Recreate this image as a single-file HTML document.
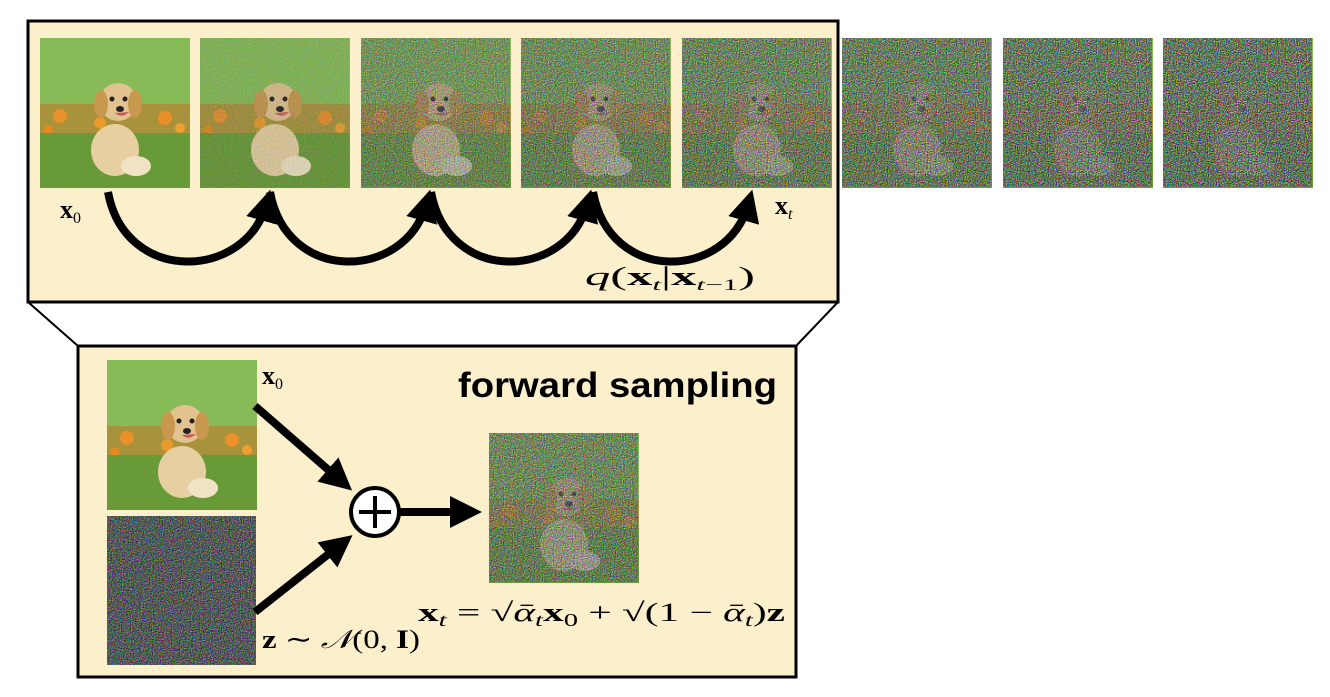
<!DOCTYPE html>
<html><head><meta charset="utf-8"><style>
html,body{margin:0;padding:0;background:#fff;width:1330px;height:697px;overflow:hidden}
svg{display:block}
.m{font-family:"Liberation Serif",serif;font-size:26px}
</style></head><body>
<svg width="1330" height="697" viewBox="0 0 1330 697">
<defs>
<filter id="nz" x="0" y="0" width="100%" height="100%" color-interpolation-filters="sRGB">
<feTurbulence type="fractalNoise" baseFrequency="0.9" numOctaves="1" seed="3"/>
<feColorMatrix values="2.2 0 0 0 -0.72 0 2.2 0 0 -0.68 0 0 2.2 0 -0.72 0 0 0 0 1"/>
</filter>
<marker id="ah" markerWidth="4" markerHeight="4" refX="2" refY="2" orient="auto" markerUnits="strokeWidth"><path d="M0,0 L4,2 L0,4 z" fill="#000"/></marker>
<g id="dog">
<rect width="150" height="150" fill="#6fa53e"/>
<rect width="150" height="70" fill="#86bb58"/>
<rect y="66" width="150" height="30" fill="#a8923c"/>
<circle cx="20" cy="78" r="7" fill="#e8902a"/><circle cx="60" cy="85" r="6" fill="#e89a2a"/><circle cx="125" cy="80" r="7" fill="#e8902a"/><circle cx="140" cy="90" r="5" fill="#f0a030"/><circle cx="8" cy="92" r="5" fill="#e08a20"/>
<rect y="95" width="150" height="55" fill="#699a38"/>
<ellipse cx="75" cy="112" rx="24" ry="26" fill="#e6cfa0"/>
<ellipse cx="96" cy="128" rx="15" ry="10" fill="#f0e2c4"/>
<ellipse cx="78" cy="64" rx="19" ry="19" fill="#e2c28e"/>
<ellipse cx="61" cy="66" rx="7" ry="14" fill="#c8984e"/>
<ellipse cx="95" cy="66" rx="7" ry="14" fill="#c8984e"/>
<circle cx="72" cy="61" r="2.5" fill="#222"/><circle cx="85" cy="61" r="2.5" fill="#222"/>
<ellipse cx="80" cy="71" rx="4" ry="3" fill="#222"/>
<path d="M75 75 Q82 81 89 74" fill="#d05a5a"/>
</g>
</defs>

<g>
<rect x="28" y="21" width="810" height="281" fill="#fcefcb" stroke="#000" stroke-width="3"/>
</g>
<g>
<line x1="28" y1="302" x2="78" y2="346" stroke="#000" stroke-width="2"/>
<line x1="838" y1="302" x2="796" y2="346" stroke="#000" stroke-width="2"/>
<rect x="78" y="346" width="718" height="331" fill="#fcefcb" stroke="#000" stroke-width="3"/>
</g>

<g>
<g transform="translate(40,38)"><use href="#dog"/></g>
<g transform="translate(200,38)"><use href="#dog"/><rect width="149" height="149" filter="url(#nz)" opacity="0.15"/></g>
<g transform="translate(361,38)"><use href="#dog"/><rect width="149" height="149" filter="url(#nz)" opacity="0.5"/></g>
<g transform="translate(521,38)"><use href="#dog"/><rect width="149" height="149" filter="url(#nz)" opacity="0.62"/></g>
<g transform="translate(682,38)"><use href="#dog"/><rect width="149" height="149" filter="url(#nz)" opacity="0.7"/></g>
<g transform="translate(842,38)"><use href="#dog"/><rect width="149" height="149" filter="url(#nz)" opacity="0.77"/></g>
<g transform="translate(1003,38)"><use href="#dog"/><rect width="149" height="149" filter="url(#nz)" opacity="0.83"/></g>
<g transform="translate(1163,38)"><use href="#dog"/><rect width="149" height="149" filter="url(#nz)" opacity="0.87"/></g>
</g>

<g fill="none" stroke="#000" stroke-width="8">
<path d="M108,192 C125,285 245,280 266,205" marker-end="url(#ah)"/>
<path d="M270,192 C287,285 405,280 426,205" marker-end="url(#ah)"/>
<path d="M431,192 C448,285 566,280 587,205" marker-end="url(#ah)"/>
<path d="M593,192 C610,285 727,280 748,205" marker-end="url(#ah)"/>
</g>
<text class="m" x="60" y="218" font-weight="bold">x<tspan font-size="16" dy="5" font-weight="normal">0</tspan></text>
<text class="m" x="775" y="214" font-weight="bold">x<tspan font-size="16" dy="5" font-weight="normal" font-style="italic">t</tspan></text>
<text class="m" x="585" y="285" textLength="170" lengthAdjust="spacingAndGlyphs"><tspan font-style="italic">q</tspan>(<tspan font-weight="bold">x</tspan><tspan font-size="16" dy="5" font-style="italic">t</tspan><tspan dy="-5">|</tspan><tspan font-weight="bold">x</tspan><tspan font-size="16" dy="5"><tspan font-style="italic">t</tspan>−1</tspan><tspan dy="-5">)</tspan></text>

<g transform="translate(107,360)"><use href="#dog"/></g>
<g transform="translate(107,516)"><rect width="149" height="149" fill="#3a3a4a"/><rect width="149" height="149" filter="url(#nz)" opacity="0.65"/></g>
<g transform="translate(489,433)"><use href="#dog"/><rect width="149" height="149" filter="url(#nz)" opacity="0.65"/></g>

<text x="458" y="397" textLength="319" lengthAdjust="spacingAndGlyphs" font-family="Liberation Sans, sans-serif" font-weight="bold" font-size="35">forward sampling</text>
<text class="m" x="262" y="384" font-weight="bold">x<tspan font-size="16" dy="5" font-weight="normal">0</tspan></text>

<g fill="none" stroke="#000" stroke-width="8">
<line x1="255" y1="406" x2="340" y2="480" marker-end="url(#ah)"/>
<line x1="255" y1="612" x2="340" y2="545" marker-end="url(#ah)"/>
<line x1="400" y1="512" x2="466" y2="512" marker-end="url(#ah)"/>
</g>
<g>
<circle cx="375" cy="512" r="24" fill="#fff" stroke="#000" stroke-width="4"/>
<line x1="375" y1="496" x2="375" y2="528" stroke="#000" stroke-width="4"/>
<line x1="359" y1="512" x2="391" y2="512" stroke="#000" stroke-width="4"/>
</g>

<text class="m" x="418" y="621" font-size="30" textLength="367" lengthAdjust="spacingAndGlyphs"><tspan font-weight="bold">x</tspan><tspan font-size="18" dy="5" font-style="italic">t</tspan><tspan dy="-5"> = √</tspan><tspan font-style="italic">ᾱ</tspan><tspan font-size="18" dy="5" font-style="italic">t</tspan><tspan dy="-5" font-weight="bold">x</tspan><tspan font-size="18" dy="5">0</tspan><tspan dy="-5"> + √(1 − </tspan><tspan font-style="italic">ᾱ</tspan><tspan font-size="18" dy="5" font-style="italic">t</tspan><tspan dy="-5">)</tspan><tspan font-weight="bold">z</tspan></text>
<text class="m" x="262" y="648" textLength="158" lengthAdjust="spacingAndGlyphs"><tspan font-weight="bold">z</tspan> ∼ <tspan font-style="italic">𝒩</tspan>(0, <tspan font-weight="bold">I</tspan>)</text>
</svg>
</body></html>
